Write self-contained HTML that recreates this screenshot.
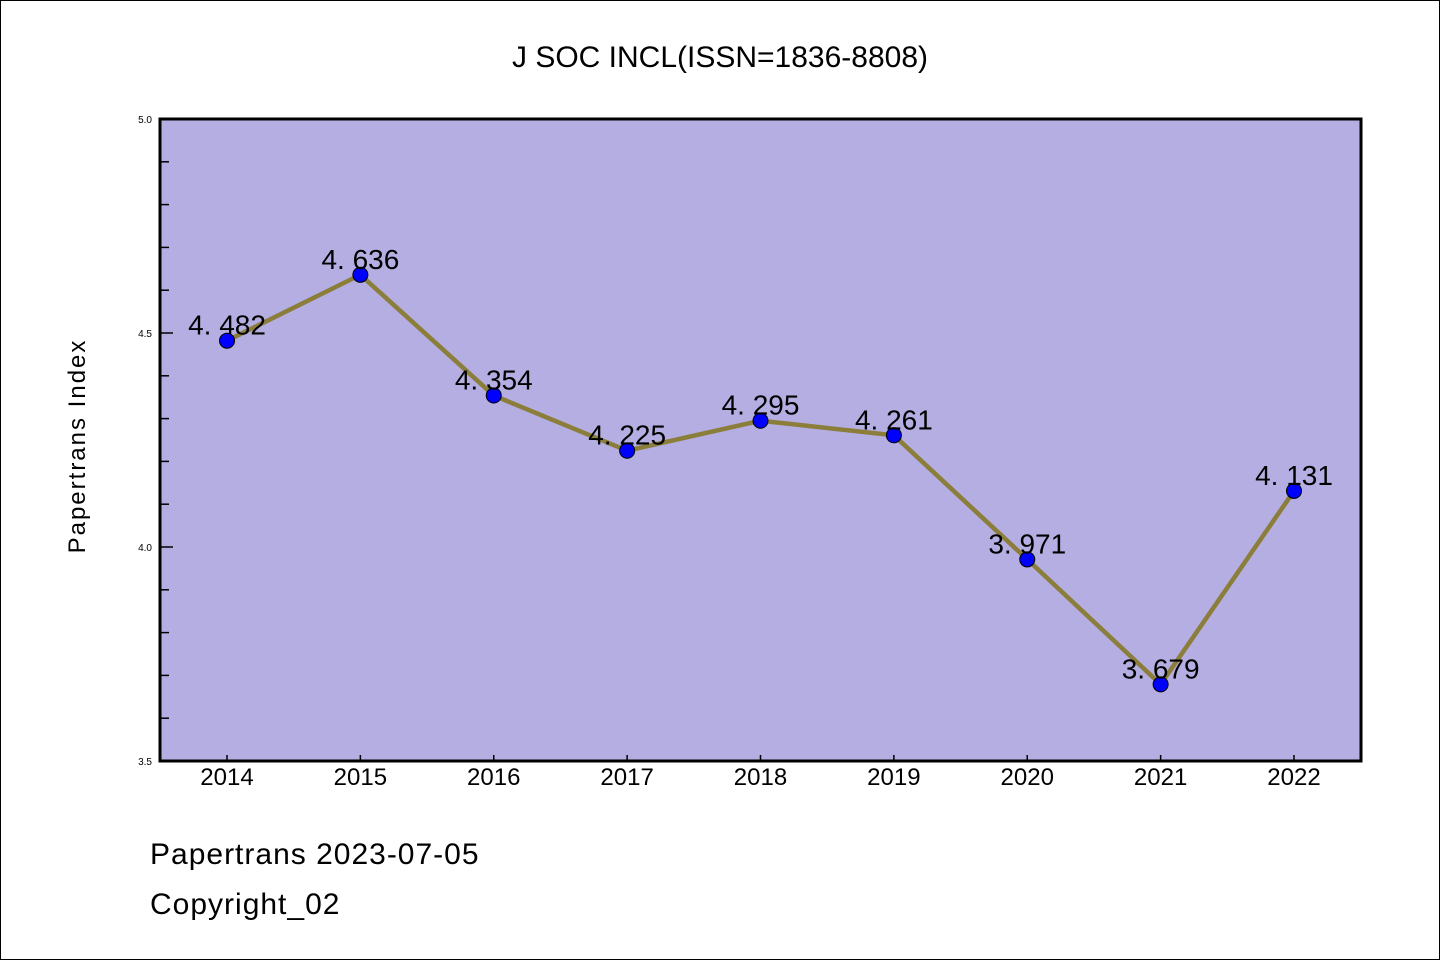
<!DOCTYPE html>
<html><head><meta charset="utf-8"><style>
html,body{margin:0;padding:0;background:#fff}
svg{display:block}
text{font-family:"Liberation Sans","Noto Sans CJK SC",sans-serif;fill:#000}
</style></head><body>
<svg id="chart" width="1440" height="960" viewBox="0 0 1440 960" xmlns="http://www.w3.org/2000/svg">
<rect x="0.5" y="0.5" width="1439" height="959" fill="#fff" stroke="#000" stroke-width="1"/>
<text x="720" y="67" font-size="30" text-anchor="middle">J SOC INCL(ISSN=1836-8808)</text>
<rect x="160" y="119" width="1201" height="642" fill="#b5aee2"/>
<g id="axes"></g>
<g id="marks"></g>
<rect x="160" y="119" width="1201" height="642" fill="none" stroke="#000" stroke-width="3"/>
<text transform="translate(85,446) rotate(-90)" font-size="24" text-anchor="middle" letter-spacing="2">Papertrans Index</text>
<text x="150" y="864" font-size="30" letter-spacing="1">Papertrans 2023-07-05</text>
<text x="150" y="914" font-size="30" letter-spacing="1">Copyright_02</text>
</svg>
<script>
const categories = ["2014","2015","2016","2017","2018","2019","2020","2021","2022"];
const values = [4.482,4.636,4.354,4.225,4.295,4.261,3.971,3.679,4.131];
const yTickLabels = ["3.5","4.0","4.5","5.0"];
const NS="http://www.w3.org/2000/svg";
const x0=227, dx=133.375;
function xs(i){return x0+i*dx;}
function ys(v){return 761-(v-3.5)/1.5*642;}
const axes=document.getElementById('axes'), marks=document.getElementById('marks');
function mk(tag,attrs,parent){const e=document.createElementNS(NS,tag);for(const k in attrs)e.setAttribute(k,attrs[k]);parent.appendChild(e);return e;}
// y ticks
for(let k=0;k<=15;k++){
  const v=3.5+k*0.1, y=ys(v), major=(k%5===0);
  const t=mk('line',{x1:160,x2:major?173:169,y1:y,y2:y,stroke:'#000','stroke-width':1.5},axes);
  
  
}
yTickLabels.forEach(s=>{
  const t=mk('text',{x:152,y:ys(parseFloat(s))+4,'font-size':10,'text-anchor':'end'},axes);
  t.textContent=s;
  
  
});
categories.forEach((c,i)=>{
  const t=mk('line',{x1:xs(i),x2:xs(i),y1:761,y2:755,stroke:'#000','stroke-width':1.5},axes);
  
  
  const l=mk('text',{x:xs(i),y:785,'font-size':24,'text-anchor':'middle'},axes);
  l.textContent=c;
  
  
});
const pts=values.map((v,i)=>xs(i)+','+ys(v)).join(' ');
const line=mk('polyline',{points:pts,fill:'none',stroke:'#8b7d3a','stroke-width':4.5,'stroke-linejoin':'round'},marks);


values.forEach((v,i)=>{
  const c=mk('circle',{cx:xs(i),cy:ys(v),r:7.5,fill:'#0000ff',stroke:'#000','stroke-width':1},marks);
  
  
});
values.forEach((v,i)=>{
  const s=v.toFixed(3);
  const t=mk('text',{x:xs(i),y:ys(v)-6,'font-size':28,'text-anchor':'middle'},marks);
  t.textContent=s.replace('.','. ');
  
  
});
</script>
</body></html>
